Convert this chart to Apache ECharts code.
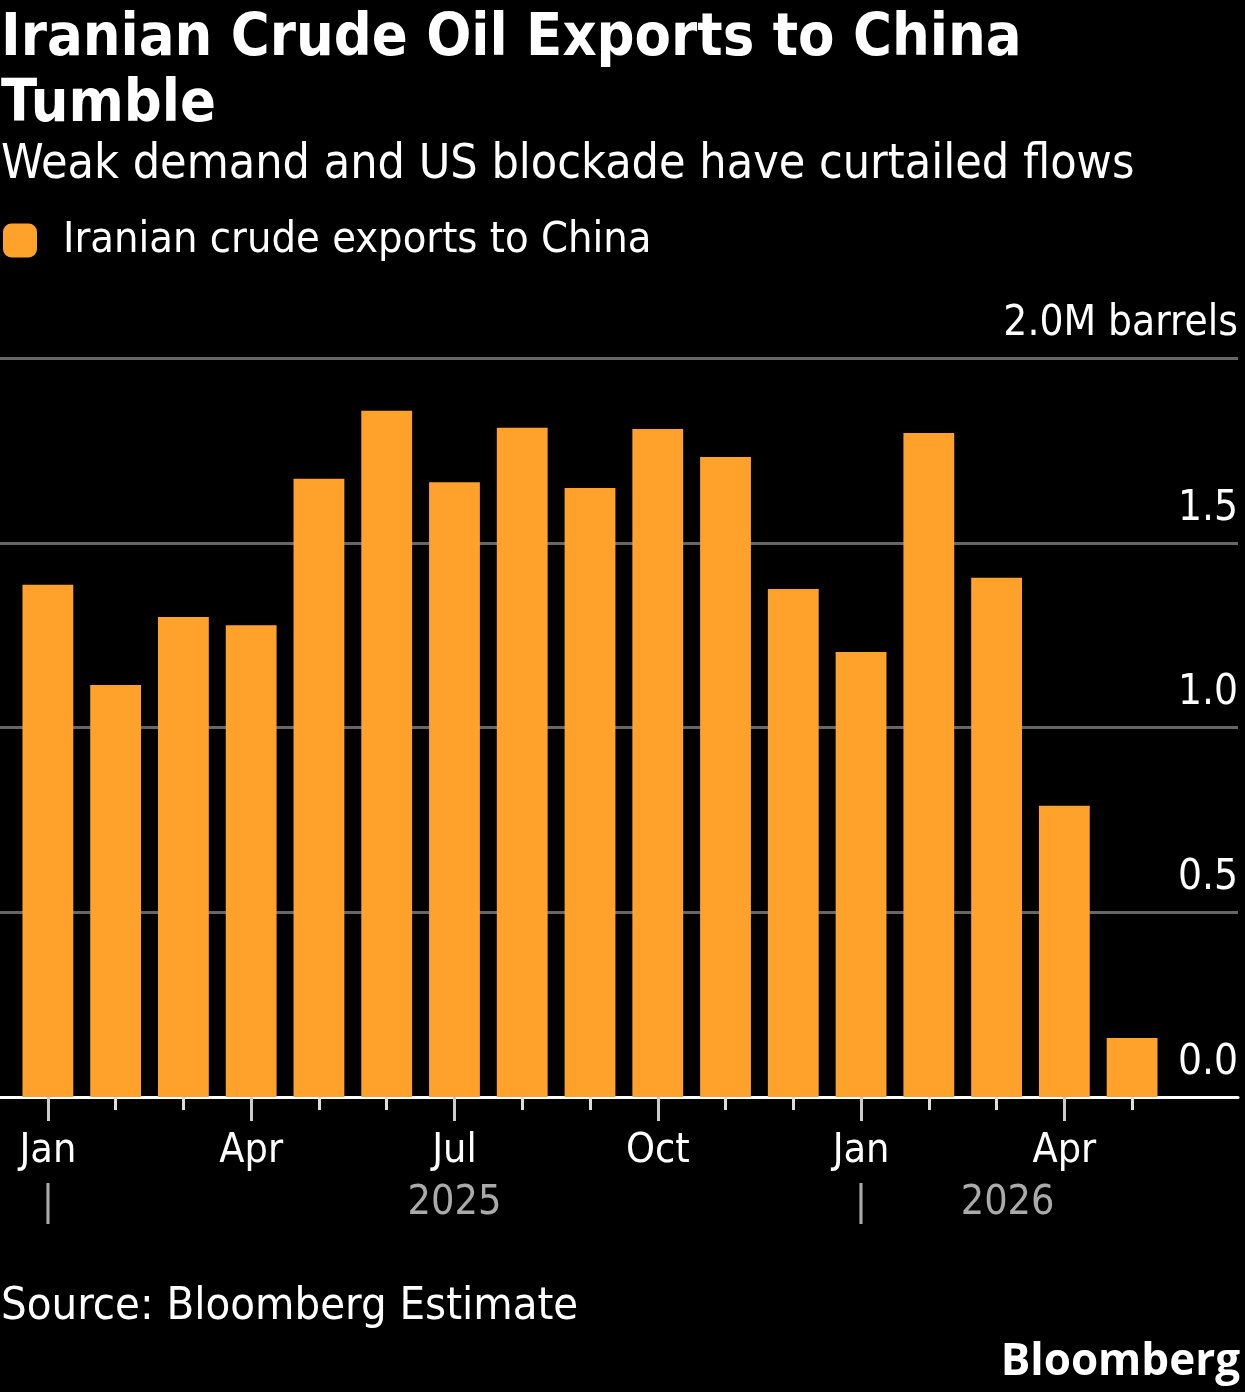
<!DOCTYPE html>
<html>
<head>
<meta charset="utf-8">
<script src="https://cdn.jsdelivr.net/npm/echarts@6/dist/echarts.min.js"></script>
<style>
  html, body { margin: 0; padding: 0; background: #000; }
  #main { width: 1245px; height: 1392px; }
</style>
</head>
<body>
<div id="main"></div>
<script>
var months = ['Jan', 'Feb', 'Mar', 'Apr', 'May', 'Jun', 'Jul', 'Aug', 'Sep', 'Oct', 'Nov', 'Dec',
  'Jan', 'Feb', 'Mar', 'Apr', 'May'];
var yearLabels = ['|', '', '', '', '', '', '2025', '', '', '', '', '', '|', '', '2026', '', ''];
var exports = [1.386, 1.115, 1.299, 1.277, 1.673, 1.857, 1.664, 1.811, 1.648, 1.808, 1.732, 1.375,
  1.204, 1.797, 1.405, 0.788, 0.160];
var yTicks = { 0: '0.0', 0.5: '0.5', 1: '1.0', 1.5: '1.5', 2: '2.0M barrels' };

var FONT = '"DejaVu Sans Condensed", "DejaVu Sans", sans-serif';
var ORANGE = '#fea22c';

var chart = echarts.init(document.getElementById('main'));

function quarterly(i) { return i % 3 === 0; }

var option = {
  backgroundColor: '#000',
  animation: false,
  textStyle: { fontFamily: FONT },
  title: [
    {
      text: 'Iranian Crude Oil Exports to China\nTumble',
      left: -4, top: 2,
      textStyle: { color: '#fff', fontSize: 59, fontWeight: 'bold', fontFamily: FONT, lineHeight: 66 }
    },
    {
      text: 'Weak demand and US blockade have curtailed flows',
      left: -4, top: 137,
      textStyle: { color: '#fff', fontSize: 48, fontWeight: 'normal', fontFamily: FONT }
    },
    {
      text: 'Source: Bloomberg Estimate',
      left: -4, top: 1280,
      textStyle: { color: '#fff', fontSize: 45, fontWeight: 'normal', fontFamily: FONT }
    },
    {
      text: 'Bloomberg',
      right: 0, top: 1335,
      textStyle: { color: '#fff', fontSize: 44, fontWeight: 'bold', fontFamily: '"Open Sans", Lato, sans-serif' }
    }
  ],
  legend: {
    left: -2, top: 214,
    itemWidth: 34, itemHeight: 34, itemGap: 20,
    icon: 'roundRect',
    textStyle: { color: '#fff', fontSize: 43, fontFamily: FONT, padding: [0, 0, 0, 21] },
    data: ['Iranian crude exports to China']
  },
  grid: [
    { left: 14, right: 79, top: 358, bottom: 295 },
    { left: 0, right: 7, top: 358, bottom: 295 }
  ],
  xAxis: [
    {
      type: 'category', gridIndex: 0, data: months,
      axisLine: { show: false },
      axisTick: { show: true, alignWithLabel: true, interval: 0, length: 13, lineStyle: { color: '#ddd', width: 3 } },
      axisLabel: {
        interval: function (i) { return quarterly(i); },
        color: '#fff', fontSize: 41, fontFamily: FONT, margin: 34
      }
    },
    {
      type: 'category', gridIndex: 0, data: months, position: 'bottom',
      axisLine: { show: false },
      axisTick: { show: true, alignWithLabel: true, interval: function (i) { return quarterly(i); }, length: 24, lineStyle: { color: '#ccc', width: 3 } },
      axisLabel: { show: false }
    },
    {
      type: 'category', gridIndex: 0, data: yearLabels, position: 'bottom',
      axisLine: { show: false },
      axisTick: { show: false },
      axisLabel: {
        interval: 0, color: '#aaa', fontSize: 41, fontFamily: FONT, margin: 86,
        formatter: function (v) { return v === '2026' ? '{p|' + v + '}' : v; },
        rich: { p: { color: '#aaa', fontSize: 41, fontFamily: FONT, padding: [0, 0, 0, 22] } }
      }
    },
    {
      type: 'value', gridIndex: 1, min: 0, max: 1,
      axisLine: { show: true, onZero: false, lineStyle: { color: '#fff', width: 3 } },
      axisTick: { show: false },
      axisLabel: { show: false },
      splitLine: { show: false }
    }
  ],
  yAxis: [
    { type: 'value', gridIndex: 0, min: 0, max: 2, interval: 0.5, show: false },
    {
      type: 'value', gridIndex: 1, min: 0, max: 2, interval: 0.5, position: 'right',
      axisLine: { show: false },
      axisTick: { show: false },
      splitLine: { show: true, lineStyle: { color: '#666', width: 3 } },
      axisLabel: {
        inside: true, margin: 0, verticalAlign: 'bottom',
        color: '#fff', fontSize: 42, fontFamily: FONT, padding: [0, 0, 13, 0],
        formatter: function (v) { return yTicks[v]; }
      }
    }
  ],
  series: [
    {
      name: 'Iranian crude exports to China',
      type: 'bar', xAxisIndex: 0, yAxisIndex: 0,
      data: exports,
      barCategoryGap: '25%',
      itemStyle: { color: ORANGE },
      z: 3
    },
    {
      type: 'line', xAxisIndex: 3, yAxisIndex: 1, data: [], silent: true
    }
  ]
};

chart.setOption(option);
</script>
</body>
</html>
